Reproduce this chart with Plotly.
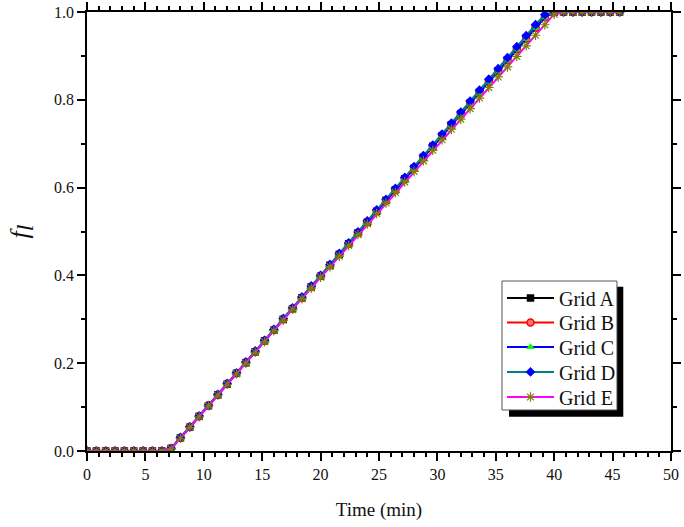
import plotly.graph_objects as go

time = [0.0, 0.8, 1.6, 2.4, 3.2, 4.0, 4.8, 5.6, 6.4, 7.2, 8.0, 8.8, 9.6, 10.4, 11.2,
        12.0, 12.8, 13.6, 14.4, 15.2, 16.0, 16.8, 17.6, 18.4, 19.2, 20.0, 20.8, 21.6,
        22.4, 23.2, 24.0, 24.8, 25.6, 26.4, 27.2, 28.0, 28.8, 29.6, 30.4, 31.2, 32.0,
        32.8, 33.6, 34.4, 35.2, 36.0, 36.8, 37.6, 38.4, 39.2, 40.0, 40.8, 41.6, 42.4,
        43.2, 44.0, 44.8, 45.6]

grid_a = [0, 0, 0, 0, 0, 0, 0, 0, 0,
          0.006, 0.030, 0.054, 0.079, 0.103, 0.128, 0.152, 0.177, 0.201, 0.226, 0.251,
          0.275, 0.300, 0.324, 0.349, 0.374, 0.398, 0.423, 0.448, 0.472, 0.497, 0.521,
          0.546, 0.571, 0.595, 0.620, 0.644, 0.669, 0.694, 0.718, 0.743, 0.768, 0.792,
          0.817, 0.841, 0.866, 0.891, 0.915, 0.940, 0.964, 0.989,
          1, 1, 1, 1, 1, 1, 1, 1]
grid_b = [0, 0, 0, 0, 0, 0, 0, 0, 0,
          0.006, 0.030, 0.055, 0.079, 0.104, 0.128, 0.153, 0.177, 0.202, 0.226, 0.251,
          0.276, 0.300, 0.325, 0.349, 0.374, 0.399, 0.423, 0.448, 0.472, 0.497, 0.521,
          0.546, 0.570, 0.595, 0.620, 0.644, 0.669, 0.693, 0.718, 0.743, 0.767, 0.792,
          0.816, 0.841, 0.866, 0.890, 0.915, 0.939, 0.964, 0.988,
          1, 1, 1, 1, 1, 1, 1, 1]
grid_c = [0, 0, 0, 0, 0, 0, 0, 0, 0,
          0.005, 0.030, 0.054, 0.079, 0.103, 0.128, 0.152, 0.177, 0.201, 0.226, 0.250,
          0.275, 0.300, 0.324, 0.349, 0.373, 0.398, 0.423, 0.447, 0.472, 0.496, 0.521,
          0.546, 0.570, 0.595, 0.619, 0.644, 0.669, 0.693, 0.718, 0.742, 0.767, 0.792,
          0.816, 0.841, 0.865, 0.890, 0.915, 0.939, 0.964, 0.988,
          1, 1, 1, 1, 1, 1, 1, 1]
grid_d = [0, 0, 0, 0, 0, 0, 0, 0, 0,
          0.006, 0.031, 0.055, 0.080, 0.104, 0.129, 0.154, 0.178, 0.203, 0.228, 0.252,
          0.277, 0.302, 0.326, 0.351, 0.376, 0.400, 0.425, 0.450, 0.474, 0.499, 0.524,
          0.549, 0.573, 0.598, 0.623, 0.648, 0.673, 0.697, 0.722, 0.747, 0.772, 0.797,
          0.822, 0.847, 0.871, 0.896, 0.921, 0.946, 0.971, 0.994,
          1, 1, 1, 1, 1, 1, 1, 1]
grid_e = [0, 0, 0, 0, 0, 0, 0, 0, 0,
          0.005, 0.029, 0.054, 0.078, 0.103, 0.127, 0.152, 0.176, 0.200, 0.225, 0.249,
          0.274, 0.298, 0.323, 0.347, 0.371, 0.396, 0.420, 0.444, 0.468, 0.493, 0.517,
          0.541, 0.565, 0.589, 0.613, 0.637, 0.661, 0.685, 0.709, 0.733, 0.756, 0.780,
          0.804, 0.828, 0.852, 0.875, 0.899, 0.923, 0.947, 0.971,
          0.995, 1, 1, 1, 1, 1, 1, 1]

names = ["Grid A", "Grid B", "Grid C", "Grid D", "Grid E"]
series = [grid_a, grid_b, grid_c, grid_d, grid_e]
line_colors = ["#000000", "#ff0000", "#0000ff", "#008080", "#ff00ff"]
marker_colors = ["#000000", "#ff0000", "#00ff00", "#0000ff", "#808000"]
symbols = ["square", "circle", "triangle-up", "diamond", "asterisk-open"]
legend_ids = ["legend", "legend2", "legend3", "legend4", "legend5"]
legend_y = [0.3485, 0.2927, 0.2369, 0.1800, 0.1230]

FONT = "Liberation Serif, Times New Roman, serif"

fig = go.Figure()
for i, (nm, ys) in enumerate(zip(names, series)):
    if symbols[i] == "asterisk-open":
        mk = dict(symbol="asterisk-open", size=8, color=marker_colors[i],
                  line=dict(color=marker_colors[i], width=1.2))
    elif symbols[i] == "circle":
        mk = dict(symbol="circle", size=7, color="#ff7070",
                  line=dict(color=marker_colors[i], width=1.5))
    else:
        mk = dict(symbol=symbols[i], size=7.5, color=marker_colors[i],
                  line=dict(width=0))
    fig.add_trace(go.Scatter(
        x=time, y=ys, name=nm, mode="lines+markers",
        line=dict(color=line_colors[i], width=2),
        marker=mk, legend=legend_ids[i],
    ))

axis_common = dict(
    showline=True, linecolor="black", linewidth=1.5, mirror="allticks",
    ticks="outside", ticklen=8, tickwidth=1.5, tickcolor="black",
    showgrid=False, zeroline=False, automargin=False,
    tickfont=dict(family=FONT, size=16, color="#111"),
)

fig.update_xaxes(
    range=[0, 50], dtick=5, tick0=0,
    minor=dict(dtick=1, ticks="outside", ticklen=4, tickwidth=1.5, tickcolor="black"),
    title=dict(text="Time (min)", font=dict(family=FONT, size=19, color="#111"), standoff=21),
    **axis_common,
)
fig.update_yaxes(
    range=[0, 1.0], dtick=0.2, tick0=0, tickformat=".1f",
    minor=dict(dtick=0.1, ticks="outside", ticklen=4, tickwidth=1.5, tickcolor="black"),
    title=dict(text="<i>f</i><sub><span style='font-size:24px'><i>l</i></span></sub>",
               font=dict(family=FONT, size=26, color="#111"), standoff=18),
    **axis_common,
)

# legend frame with drop shadow
fig.add_shape(type="rect", xref="paper", yref="paper",
              x0=0.7226, x1=0.9183, y0=0.0781, y1=0.3743,
              fillcolor="black", line=dict(width=0), layer="above")
fig.add_shape(type="rect", xref="paper", yref="paper",
              x0=0.7106, x1=0.9075, y0=0.0934, y1=0.3872,
              fillcolor="white", line=dict(color="#555", width=1), layer="above")

legend_common = dict(
    x=0.7106, xanchor="left", yanchor="middle",
    bgcolor="rgba(0,0,0,0)", borderwidth=0,
    font=dict(family=FONT, size=20, color="#111"),
    itemwidth=47,
)
layout_legends = {lid: dict(y=ly, **legend_common) for lid, ly in zip(legend_ids, legend_y)}

fig.update_layout(
    width=684, height=527,
    margin=dict(l=87, r=13, t=12, b=76),
    paper_bgcolor="white", plot_bgcolor="white",
    font=dict(family=FONT),
    showlegend=True,
    **layout_legends,
)

fig.write_html(
    "out.html",
    config={"displayModeBar": False},
    post_script="document.body.style.margin='0';document.body.style.overflow='hidden';",
)
